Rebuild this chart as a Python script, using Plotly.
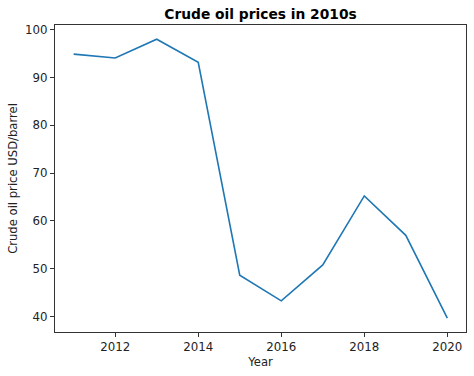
import plotly.graph_objects as go

years = [2011, 2012, 2013, 2014, 2015, 2016, 2017, 2018, 2019, 2020]
prices = [94.88, 94.05, 97.98, 93.17, 48.66, 43.29, 50.80, 65.23, 56.99, 39.68]
x_ticks = [2012, 2014, 2016, 2018, 2020]
y_ticks = [40, 50, 60, 70, 80, 90, 100]

fig = go.Figure()
fig.add_trace(go.Scatter(x=years, y=prices, mode="lines",
                         line=dict(color="#1f77b4", width=1.6), showlegend=False))

axis_common = dict(showline=True, linecolor="#333333", linewidth=1, mirror=True,
                   ticks="outside", ticklen=4, tickcolor="#333333", showgrid=False,
                   zeroline=False, automargin=False,
                   tickfont=dict(size=11.8, color="#222222"))

fig.update_layout(
    width=474, height=376,
    margin=dict(l=55, r=8, t=25, b=44, autoexpand=False),
    paper_bgcolor="white", plot_bgcolor="white",
    font=dict(family="DejaVu Sans", color="#222222"),
    title=dict(text="<b>Crude oil prices in 2010s</b>", x=0.5, xanchor="center",
               xref="paper", yref="container", y=1 - 14 / 376, yanchor="middle",
               automargin=False, font=dict(size=13.8, color="black")),
    xaxis=dict(range=[2010.55, 2020.45], tickvals=x_ticks,
               title=dict(text="Year", font=dict(size=11.6), standoff=4), **axis_common),
    yaxis=dict(range=[36.78, 100.96], tickvals=y_ticks,
               title=dict(text="Crude oil price USD/barrel", font=dict(size=11.6), standoff=5),
               **axis_common),
)

fig.write_html("out.html", config={"displayModeBar": False},
               post_script="document.body.style.margin='0';document.body.style.padding='0';")
